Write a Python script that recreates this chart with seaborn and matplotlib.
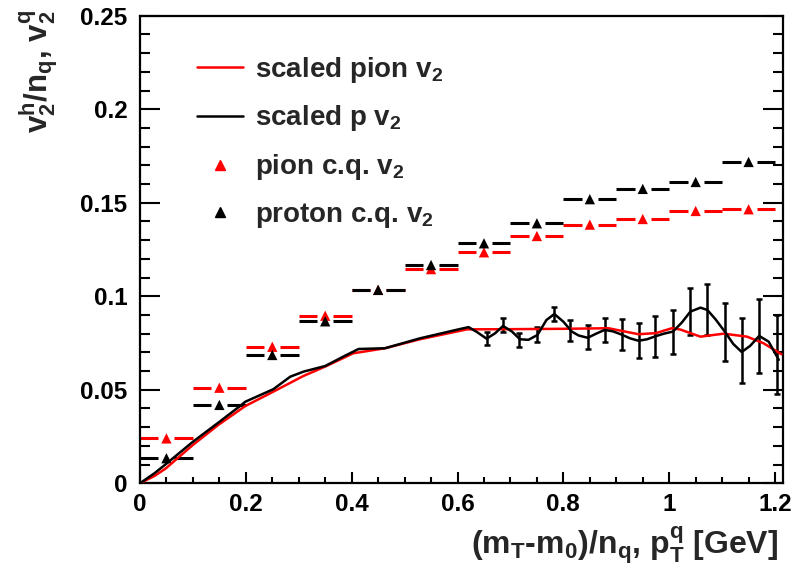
import matplotlib
matplotlib.use("Agg")
import matplotlib.pyplot as plt
from matplotlib.lines import Line2D
from matplotlib.ticker import MultipleLocator, FuncFormatter
import numpy as np
import pandas as pd
import seaborn as sns

# Constituent-quark v2 in 0.1 GeV bins of quark pT
cq_pt = [0.05, 0.15, 0.25, 0.35, 0.45, 0.55, 0.65, 0.75, 0.85, 0.95, 1.05, 1.15]
cq_half_width = 0.05
pion_cq_v2 = [0.0240, 0.0511, 0.0730, 0.0896, 0.1034, 0.1145, 0.1235, 0.1322,
              0.1383, 0.1413, 0.1456, 0.1465]
proton_cq_v2 = [0.0134, 0.0419, 0.0686, 0.0866, 0.1034, 0.1167, 0.1283, 0.1390,
                0.1519, 0.1574, 0.1611, 0.1718]

# Pion v2 scaled by number of constituent quarks
pion_curve_x = [0.0, 0.028, 0.049, 0.100, 0.148, 0.199, 0.252, 0.309, 0.350, 0.403,
                0.463, 0.529, 0.618, 0.700, 0.800, 0.885, 0.942, 0.975, 1.005, 1.021,
                1.059, 1.103, 1.147, 1.178, 1.212]
pion_curve_v2 = [0.0, 0.0040, 0.0080, 0.0205, 0.0312, 0.0413, 0.0490, 0.0574, 0.0624,
                 0.0695, 0.0722, 0.0770, 0.0823, 0.0824, 0.0826, 0.0829, 0.0797, 0.0803,
                 0.0829, 0.0822, 0.0784, 0.0800, 0.0784, 0.0749, 0.0690]

# Proton v2 scaled by number of constituent quarks
proton_curve_x = [0.0, 0.028, 0.050, 0.100, 0.148, 0.189, 0.199, 0.252, 0.284, 0.309,
                  0.350, 0.384, 0.413, 0.463, 0.529, 0.605, 0.621, 0.636, 0.655, 0.671,
                  0.686, 0.703, 0.718, 0.734, 0.751, 0.768, 0.783, 0.800, 0.816, 0.829,
                  0.846, 0.862, 0.878, 0.894, 0.910, 0.926, 0.942, 0.958, 0.974, 0.990,
                  1.007, 1.024, 1.040, 1.059, 1.072, 1.088, 1.105, 1.121, 1.137, 1.153,
                  1.170, 1.188, 1.207]
proton_curve_v2 = [0.0, 0.0055, 0.0105, 0.0222, 0.0324, 0.0413, 0.0436, 0.0503, 0.0570,
                   0.0597, 0.0627, 0.0677, 0.0718, 0.0722, 0.0775, 0.0825, 0.0835, 0.0810,
                   0.0773, 0.0802, 0.0841, 0.0811, 0.0770, 0.0767, 0.0793, 0.0873, 0.0905,
                   0.0864, 0.0811, 0.0790, 0.0778, 0.0800, 0.0820, 0.0812, 0.0795, 0.0775,
                   0.0762, 0.0770, 0.0786, 0.0800, 0.0811, 0.0860, 0.0918, 0.0939, 0.0927,
                   0.0875, 0.0811, 0.0745, 0.0702, 0.0735, 0.0788, 0.0757, 0.0660]

# Measured scaled proton points with statistical errors
proton_pts_x = [0.655, 0.686, 0.717, 0.751, 0.783, 0.813, 0.846, 0.878, 0.910, 0.942,
                0.974, 1.007, 1.040, 1.072, 1.105, 1.137, 1.170, 1.204]
proton_pts_v2 = [0.0773, 0.0846, 0.0768, 0.0795, 0.0906, 0.0818, 0.0782, 0.0821,
                 0.0796, 0.0762, 0.0787, 0.0809, 0.0918, 0.0929, 0.0810, 0.0709,
                 0.0789, 0.0688]
proton_pts_err = [0.0034, 0.0036, 0.0038, 0.0039, 0.0038, 0.0055, 0.0065, 0.0065,
                  0.0083, 0.0094, 0.0110, 0.0119, 0.0125, 0.0136, 0.0156, 0.0174,
                  0.0197, 0.0212]

sns.set_theme(style="ticks")
plt.rcParams["font.family"] = ["Liberation Sans", "DejaVu Sans"]
plt.rcParams["font.weight"] = "bold"
plt.rcParams["mathtext.fontset"] = "custom"
plt.rcParams["mathtext.rm"] = "Liberation Sans:bold"
plt.rcParams["mathtext.it"] = "Liberation Sans:bold"
plt.rcParams["mathtext.bf"] = "Liberation Sans:bold"

fig = plt.figure(figsize=(7.98, 5.75), dpi=100)
ax = fig.add_axes([0.1754, 0.1595, 0.8058, 0.8132])

RED = "#ff0000"
LW = 1.8

pion_df = pd.DataFrame({"x": pion_curve_x, "v2": pion_curve_v2})
proton_df = pd.DataFrame({"x": proton_curve_x, "v2": proton_curve_v2})

# horizontal bin-width bars around the c.q. markers (broken at the marker)
gap = 0.015
for vals, col in ((pion_cq_v2, RED), (proton_cq_v2, "black")):
    xs = np.array(cq_pt)
    ys = np.array(vals)
    ax.hlines(ys, xs - cq_half_width, xs - gap, color=col, lw=2.2, zorder=2)
    ax.hlines(ys, xs + gap, xs + cq_half_width, color=col, lw=2.2, zorder=2)

sns.scatterplot(x=cq_pt, y=pion_cq_v2, marker="^", s=55, color=RED,
                edgecolor="none", ax=ax, zorder=3)
sns.scatterplot(x=cq_pt, y=proton_cq_v2, marker="^", s=55, color="black",
                edgecolor="none", ax=ax, zorder=3)

# scaled proton points
ax.errorbar(proton_pts_x, proton_pts_v2, yerr=proton_pts_err, fmt="none",
            ecolor="black", elinewidth=1.8, capsize=2.0, capthick=1.8, zorder=3)

sns.lineplot(data=pion_df, x="x", y="v2", color=RED, lw=LW, sort=False,
             estimator=None, ax=ax, zorder=4)
sns.lineplot(data=proton_df, x="x", y="v2", color="black", lw=LW, sort=False,
             estimator=None, ax=ax, zorder=5)

ax.set_xlim(0, 1.215)
ax.set_ylim(0, 0.25)
ax.xaxis.set_major_locator(MultipleLocator(0.2))
ax.xaxis.set_minor_locator(MultipleLocator(0.05))
ax.yaxis.set_major_locator(MultipleLocator(0.05))
ax.yaxis.set_minor_locator(MultipleLocator(0.01))
fmt = FuncFormatter(lambda v, _: f"{v:.2f}".rstrip("0").rstrip(".") if v != 0 else "0")
ax.xaxis.set_major_formatter(fmt)
ax.yaxis.set_major_formatter(fmt)

ax.tick_params(axis="x", which="both", direction="in", top=False, bottom=True,
               width=1.5, labelsize=17.5, pad=7, colors="black")
ax.tick_params(axis="x", which="major", length=8)
ax.tick_params(axis="x", which="minor", length=4.5)
ax.tick_params(axis="y", which="both", direction="in", left=True, right=True,
               width=1.5, labelsize=17.5, pad=9, colors="black")
ax.tick_params(axis="y", which="major", length=14.5)
ax.tick_params(axis="y", which="minor", length=7.2)
for lab in ax.get_xticklabels() + ax.get_yticklabels():
    lab.set_fontweight("bold")
for sp in ax.spines.values():
    sp.set_linewidth(1.6)
    sp.set_color("black")
    sp.set_visible(True)

ax.set_xlabel(r"(m$_T$-m$_0$)/n$_q$, p$_T^q$ [GeV]", fontsize=23,
              fontweight="bold", loc="right")
ax.xaxis.set_label_coords(0.992, -0.088)
ax.set_ylabel(r"v$_2^h$/n$_q$, v$_2^q$", fontsize=22.5, fontweight="bold", loc="top")
ax.yaxis.set_label_coords(-0.125, 1.012)

handles = [
    Line2D([], [], color=RED, lw=LW),
    Line2D([], [], color="black", lw=LW),
    Line2D([], [], color=RED, marker="^", ls="none", ms=7),
    Line2D([], [], color="black", marker="^", ls="none", ms=7),
]
labels = [r"scaled pion v$_2$", r"scaled p v$_2$", r"pion c.q. v$_2$",
          r"proton c.q. v$_2$"]
leg = ax.legend(handles, labels, loc="upper left", bbox_to_anchor=(0.0886, 0.917),
                frameon=False, fontsize=20, handlelength=1.65, handletextpad=0.45,
                labelspacing=0.68, borderaxespad=0, borderpad=0)

fig.savefig("out.png", dpi=100)
